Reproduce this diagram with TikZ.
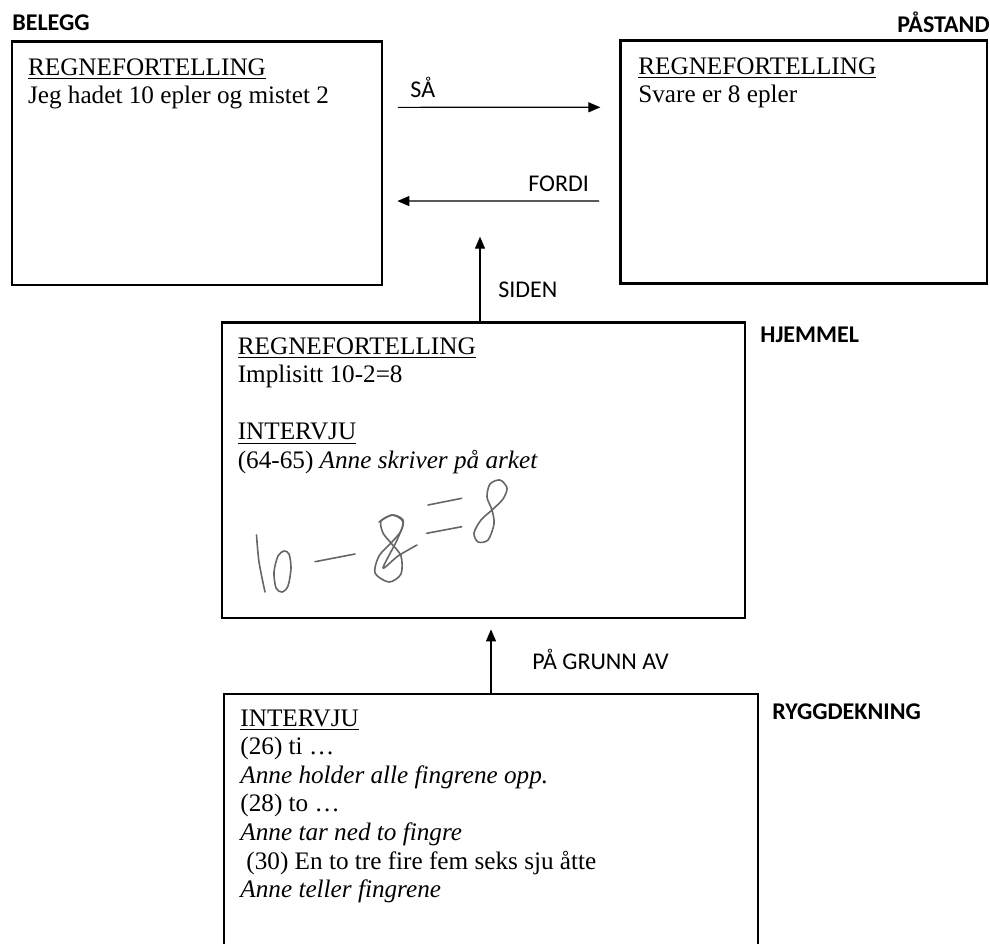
\documentclass[tikz,border=0pt]{standalone}
\usepackage{fontspec}
\setmainfont{Liberation Serif}
\newfontfamily\labelfont{Carlito}
\usepackage{tikz}
\usetikzlibrary{arrows.meta}
\usetikzlibrary{calc}

\begin{document}
\begin{tikzpicture}[x=0.5pt,y=-0.5pt,line cap=round]
  % Colors
  \colorlet{boxline}{black}
  \colorlet{pencil}{black!60}
  % Styles
  \tikzstyle{box}=[draw=boxline,line width=1.35pt,rectangle,inner sep=0pt]
  \tikzstyle{box text}=[anchor=north west,inner sep=0pt,align=left,font=\fontsize{12.6}{14.3}\selectfont]
  \tikzstyle{role}=[anchor=base west,inner sep=0pt,font=\labelfont\bfseries\fontsize{12}{14}\selectfont]
  \tikzstyle{word}=[anchor=base west,inner sep=0pt,font=\labelfont\fontsize{12}{14}\selectfont]
  \tikzstyle{important line}=[line width=0.6pt,-{Triangle[length=6pt,width=5pt]}]
  \tikzstyle{hand}=[draw=pencil,line width=0.8pt,line join=round]

  \useasboundingbox (0,0) rectangle (990,943);
  \clip (0,0) rectangle (990,943);

  % The boxes
  \node[box,minimum width=185pt,minimum height=121.65pt] (belegg) at (197,163.35) {};
  \node[box,minimum width=183.15pt,minimum height=121.3pt] (pastand) at (803.85,162) {};
  \node[box,minimum width=261.5pt,minimum height=147.65pt] (hjemmel) at (483.5,470.35) {};
  \node[box,minimum width=267pt,minimum height=148pt] (rygg) at (491,842) {};

  % Roles
  \node[role] (beleggrole) at (12,30) {BELEGG};
  \node[role,anchor=base east] (pastandrole) at (990,32) {PÅSTAND};
  \node[role] (hjemmelrole) at (760,342) {HJEMMEL};
  \node[role] (ryggrole) at (772,719) {RYGGDEKNING};

  % Box contents
  \node[box text] (beleggtxt) at ($(belegg.north west)+(17,17.6)$)
    {\underline{REGNEFORTELLING}\\Jeg hadet 10 epler og mistet 2};
  \node[box text] (pastandtxt) at ($(pastand.north west)+(18.6,17.6)$)
    {\underline{REGNEFORTELLING}\\Svare er 8 epler};
  \node[box text] (hjemmeltxt) at ($(hjemmel.north west)+(16.8,15.6)$)
    {\underline{REGNEFORTELLING}\\Implisitt 10-2=8\\[14.3pt]
     \underline{INTERVJU}\\(64-65) \textit{Anne skriver på arket}};
  \node[box text] (ryggtxt) at ($(rygg.north west)+(17.4,16.6)$)
    {\underline{INTERVJU}\\(26) ti …\\\textit{Anne holder alle fingrene opp.}\\
     (28) to …\\\textit{Anne tar ned to fingre}\\
     \hspace*{3pt}(30) En to tre fire fem seks sju åtte\\\textit{Anne teller fingrene}};

  % Arrows
  \draw[important line] ($(belegg.east)+(15,-56)$) -- ($(pastand.west)+(-19,-54.7)$);
  \draw[important line] ($(pastand.west)+(-20.7,39)$) -- ($(belegg.east)+(14,37.7)$);
  \draw[important line] ($(hjemmel.north)+(-3.5,0)$) -- ++(0,-84.7);
  \draw[important line] (rygg.north) -- ($(rygg.north |- hjemmel.south)+(0,10)$);

  \node[word] (sa) at (410,97) {SÅ};
  \node[word] (fordi) at (528,191) {FORDI};
  \node[word] (siden) at (498,297) {SIDEN};
  \node[word] (pagrunnav) at (532,669) {PÅ GRUNN AV};

  % Handwriting 10-8=8
  \draw[hand] plot[smooth] coordinates {(256.5,535) (259,562) (265,592)};
  \draw[hand] plot[smooth cycle] coordinates {(284,551) (278,556) (274,572) (276,588) (282,592) (288,586) (291,568) (289,554)};
  \draw[hand] (315,561.7) -- (355,554);
  \draw[hand] plot[smooth cycle] coordinates {(393,515) (381,521) (383,533) (391,543) (401,556) (401,574) (389,582) (375,573) (379,556) (391,543) (401,531) (403,520)};
  \draw[hand] plot[smooth] coordinates {(379,522) (392,515) (403,522) (397,540) (383,568) (398,556) (417,545)};
  \draw[hand] (428,505) -- (461.7,498.3);
  \draw[hand] (426.7,533.3) -- (461.7,526.7);
  \draw[hand] plot[smooth cycle] coordinates {(492,510) (494,524) (488,540) (478,542) (474,533) (481,520) (492,510) (503,499) (507,488) (500,480) (490,484) (487,497)};
\end{tikzpicture}
\end{document}
